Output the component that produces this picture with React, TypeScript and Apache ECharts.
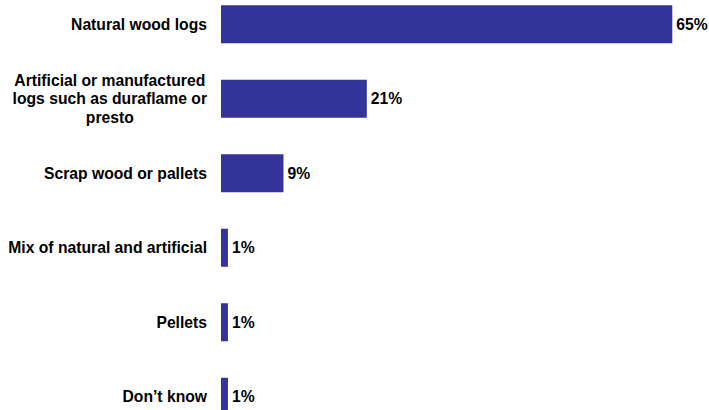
import React, { useEffect, useRef } from "react";
import * as echarts from "echarts";

const categories = [
  "Natural wood logs",
  "Artificial or manufactured\nlogs such as duraflame or\npresto",
  "Scrap wood or pallets",
  "Mix of natural and artificial",
  "Pellets",
  "Don’t know",
];
const values = [65, 21, 9, 1, 1, 1];

const FONT = "'Liberation Sans', Arial, Helvetica, sans-serif";

export default function App() {
  const ref = useRef<HTMLDivElement>(null);
  useEffect(() => {
    document.body.style.margin = "0";
    const chart = echarts.init(ref.current!, null, { renderer: "svg" });
    chart.setOption({
      animation: false,
      backgroundColor: "#ffffff",
      grid: { left: 221, right: 36.7, top: 0, bottom: 0, containLabel: false },
      xAxis: {
        type: "value",
        min: 0,
        max: 65,
        show: false,
      },
      yAxis: {
        type: "category",
        inverse: true,
        data: categories,
        axisLine: { show: false },
        axisTick: { show: false },
        splitLine: { show: false },
        axisLabel: {
          margin: 14,
          align: "right",
          formatter: (v: string) =>
            v.split("\n").map((l) => `{c|${l}}`).join("\n"),
          rich: {
            c: {
              align: "center",
              fontSize: 15.7,
              fontWeight: "bold",
              fontFamily: FONT,
              color: "#000000",
              lineHeight: 18.5,
            },
          },
        },
      },
      series: [
        {
          type: "bar",
          data: values,
          barWidth: 38,
          itemStyle: { color: "#333399" },
          label: {
            show: true,
            position: "right",
            distance: 4,
            formatter: "{c}%",
            fontSize: 15.7,
            fontWeight: "bold",
            fontFamily: FONT,
            color: "#000000",
          },
        },
      ],
    });
    return () => chart.dispose();
  }, []);
  return (
    <div style={{ position: "relative", width: 709, height: 410, overflow: "hidden", background: "#fff" }}>
      <div ref={ref} style={{ position: "absolute", left: 0, top: -13, width: 709, height: 447 }} />
    </div>
  );
}
